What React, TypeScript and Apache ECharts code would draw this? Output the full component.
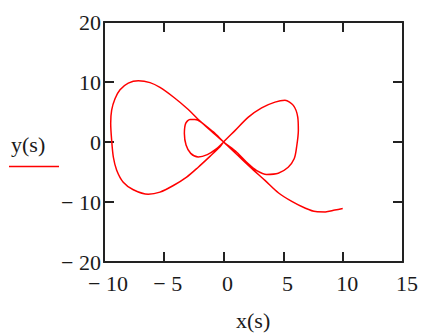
import React, { useEffect, useRef } from "react";
import * as echarts from "echarts";

// Parametric curve, in drawing order
const curveX: number[] = [
  9.96, 9.3, 8.5, 7.7, 6.8, 5.7, 4.6, 3.46, 2.35, 1.2, 0,
  -0.86, -1.97, -3.0, -4.2, -5.32, -6.15, -7.13, -7.97, -8.66, -9.08, -9.36, -9.44, -9.36, -9.22, -8.94, -8.39, -7.55, -6.3, -5.32, -4.2, -3.09, -2.12, -1.14, -0.3, 0,
  0.95, 2.07, 3.18, 4.3, 5.13, 5.83, 6.2, 6.25, 6.1, 5.9, 5.4, 4.57, 3.6, 2.77, 2.07, 1.1, 0,
  -1.0, -1.95, -2.4, -2.81, -3.17, -3.28, -3.14, -2.75, -2.12, -1.36, -0.58, 0,
];
const curveY: number[] = [
  -11.1, -11.35, -11.65, -11.6, -11.0, -9.9, -8.5, -6.4, -4.4, -2.25, 0,
  1.68, 3.5, 5.5, 7.5, 9.1, 9.9, 10.2, 9.8, 8.7, 7.2, 5.3, 3.1, 0.3, -2.5, -4.7, -6.7, -7.95, -8.7, -8.35, -7.25, -5.85, -4.2, -2.4, -0.8, 0,
  1.9, 4.15, 5.7, 6.65, 6.95, 6.1, 4.15, 1.9, -0.9, -2.8, -4.2, -5.2, -5.4, -4.77, -3.65, -1.7, 0,
  1.75, 3.4, 3.75, 3.76, 3.1, 1.4, -0.5, -1.9, -2.5, -2.1, -1.1, 0,
];

const xMin = -10;
const xMax = 15;
const xStep = 5;
const yMin = -20;
const yMax = 20;
const yStep = 10;
const xTitle = "x(s)";
const yTitle = "y(s)";

const FONT = "'Liberation Serif', 'Times New Roman', serif";
const TEXT_COLOR = "#1a1a1a";
const FRAME = { color: "#222", width: 2 };

const fmt = (v: number) => (v < 0 ? "\u2212 " + Math.abs(v) : String(v));

export default function App() {
  const ref = useRef<HTMLDivElement>(null);
  useEffect(() => {
    if (!ref.current) return;
    const chart = echarts.init(ref.current, null, { renderer: "svg" });
    const data = curveX.map((x, i) => [x, curveY[i]]);
    const tick = { show: true, inside: true, length: 10, lineStyle: { ...FRAME } };
    chart.setOption({
      animation: false,
      backgroundColor: "#fff",
      grid: { left: 104, right: 19, top: 22, bottom: 72, containLabel: false },
      xAxis: [
        {
          type: "value",
          position: "bottom",
          min: xMin,
          max: xMax,
          interval: xStep,
          axisLine: { show: true, onZero: false, lineStyle: { ...FRAME } },
          axisTick: tick,
          splitLine: { show: false },
          axisLabel: {
            formatter: fmt,
            fontFamily: FONT,
            fontSize: 22,
            color: TEXT_COLOR,
            margin: 10,
            padding: [0, 0, 0, 8],
          },
        },
        {
          type: "value",
          position: "top",
          min: xMin,
          max: xMax,
          interval: xStep,
          axisLine: { show: true, onZero: false, lineStyle: { ...FRAME } },
          axisTick: tick,
          splitLine: { show: false },
          axisLabel: { show: false },
        },
      ],
      yAxis: [
        {
          type: "value",
          position: "left",
          min: yMin,
          max: yMax,
          interval: yStep,
          axisLine: { show: true, onZero: false, lineStyle: { ...FRAME } },
          axisTick: tick,
          splitLine: { show: false },
          axisLabel: {
            formatter: fmt,
            fontFamily: FONT,
            fontSize: 22,
            color: TEXT_COLOR,
            margin: 3,
            padding: [6, 0, 0, 0],
          },
        },
        {
          type: "value",
          position: "right",
          min: yMin,
          max: yMax,
          interval: yStep,
          axisLine: { show: true, onZero: false, lineStyle: { ...FRAME } },
          axisTick: tick,
          splitLine: { show: false },
          axisLabel: { show: false },
        },
      ],
      graphic: [
        {
          type: "text",
          left: 11,
          top: 133,
          style: { text: yTitle, font: `22px ${FONT}`, fill: TEXT_COLOR },
        },
        {
          type: "line",
          shape: { x1: 9, y1: 166.5, x2: 59, y2: 166.5 },
          style: { stroke: "#ff0000", lineWidth: 1.5 },
        },
        {
          type: "text",
          left: 236,
          top: 309,
          style: { text: xTitle, font: `22px ${FONT}`, fill: TEXT_COLOR },
        },
      ],
      series: [
        {
          type: "line",
          xAxisIndex: 0,
          yAxisIndex: 0,
          data,
          smooth: 0.3,
          showSymbol: false,
          lineStyle: { color: "#ff0000", width: 1.5 },
          clip: true,
        },
      ],
    });
    return () => chart.dispose();
  }, []);
  return <div ref={ref} style={{ width: 422, height: 334, position: "absolute", left: 0, top: 0 }} />;
}
